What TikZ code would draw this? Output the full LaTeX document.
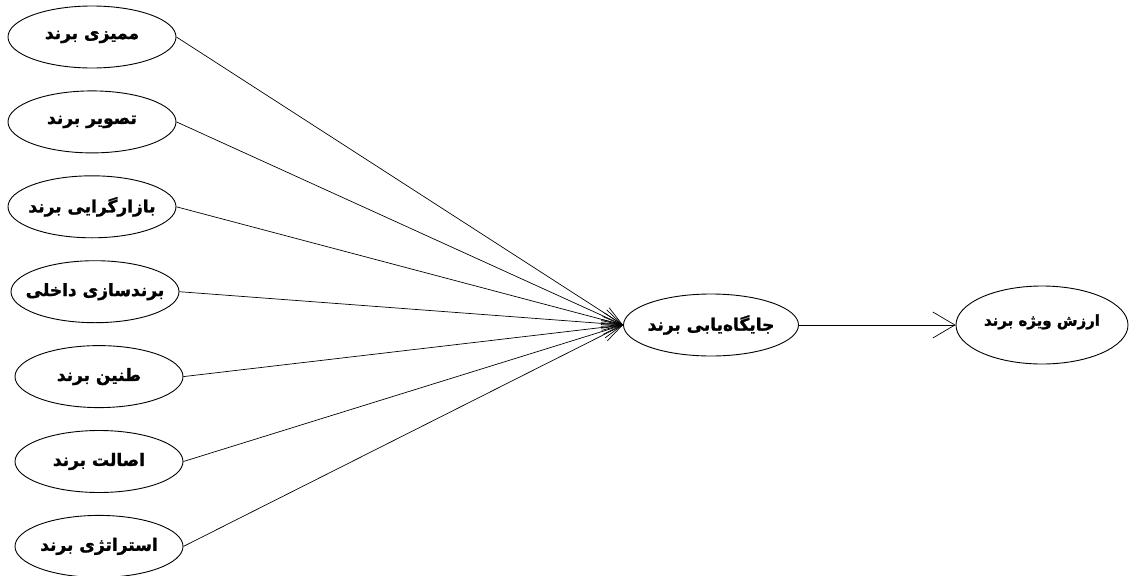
\documentclass[tikz,border=0pt]{standalone}
\usepackage{fontspec}
\newfontfamily\arabicfont[Script=Arabic,FakeBold=1.5]{DejaVu Sans}
\TeXXeTstate=1
\usetikzlibrary{shapes,positioning,arrows.meta}
\newcommand{\fa}[1]{\makebox[0pt]{\beginR #1\endR}}
\tikzset{
    ell/.style={draw,ellipse,line width=0.9pt,minimum height=62pt,minimum width=168pt,inner sep=0pt,align=center,font=\arabicfont\bfseries\fontsize{17}{20}\selectfont},
    bigell/.style={ell,minimum height=78pt,minimum width=172pt,font=\arabicfont\bfseries\fontsize{15}{18}\selectfont},
    line/.style={-{Straight Barb[length=20pt,width=14pt]},line width=0.7pt},
    bigline/.style={-{Straight Barb[length=22pt,width=26pt]},line width=0.7pt},
}
\begin{document}
\begin{tikzpicture}[x=1pt,y=-1pt]
                \useasboundingbox (0,0) rectangle (1136,576);
                \node[ell] (distinct) at (92,37) {\fa{ممیزی برند}};
                \node[ell,below=22pt of distinct] (image) {\fa{تصویر برند}};
                \node[ell,below=22pt of image] (market) {\fa{بازارگرایی برند}};
                \node[ell,below=22pt of market,xshift=3pt] (internal) {\fa{برندسازی داخلی}};
                \node[ell,below=22pt of internal,xshift=4pt] (resonance) {\fa{طنین برند}};
                \node[ell,below=22pt of resonance] (authentic) {\fa{اصالت برند}};
                \node[ell,below=22pt of authentic] (strategy) {\fa{استراتژی برند}};
                \node[ell,minimum width=175pt] (position) at (711,325) {\fa{جایگاه‌یابی برند}};
                \node[bigell] (equity) at (1042,325) {\raisebox{10pt}{\fa{ارزش ویژه برند}}};
                \foreach \src in {distinct,image,market,internal,resonance,authentic,strategy}
                    \draw[line] (\src.east) -- (position.west);
                \draw[bigline] (position.east) -- (equity.west);
            \end{tikzpicture}
\end{document}
